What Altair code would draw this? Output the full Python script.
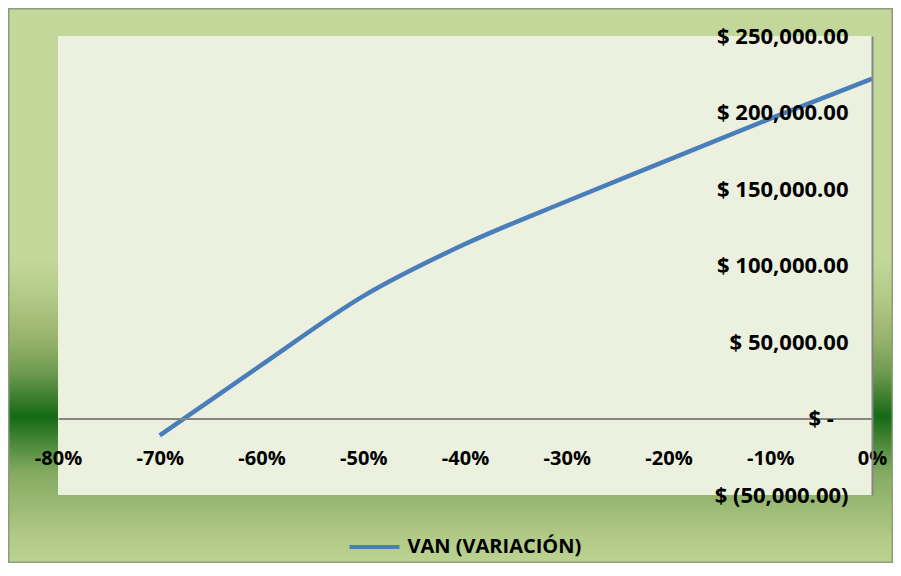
import altair as alt
import pandas as pd

# Data
variacion = [-0.70, -0.60, -0.50, -0.40, -0.30, -0.20, -0.10, 0.0]
van = [-11000, 35000, 80000, 114000, 142000, 169000, 196000, 222000]
series_name = "VAN (VARIACIÓN)"
x_ticks = [-0.8, -0.7, -0.6, -0.5, -0.4, -0.3, -0.2, -0.1, 0.0]
y_ticks = [-50000, 0, 50000, 100000, 150000, 200000, 250000]

W, H = 814, 459
FONT = "Open Sans"

df = pd.DataFrame({"x": variacion, "y": van, "serie": [series_name] * len(van)})
dummy = alt.Data(values=[{"a": 1}])

grad = alt.LinearGradient(
    gradient="linear", x1=0, y1=0, x2=0, y2=1,
    stops=[
        alt.GradientStop(color="#C4D79B", offset=0.0),
        alt.GradientStop(color="#C4D79B", offset=0.449),
        alt.GradientStop(color="#B0C985", offset=0.526),
        alt.GradientStop(color="#97B26B", offset=0.598),
        alt.GradientStop(color="#6D9A4F", offset=0.658),
        alt.GradientStop(color="#3F7F30", offset=0.701),
        alt.GradientStop(color="#156A15", offset=0.737),
        alt.GradientStop(color="#3D8130", offset=0.773),
        alt.GradientStop(color="#84AA60", offset=0.838),
        alt.GradientStop(color="#B3CB88", offset=0.959),
        alt.GradientStop(color="#BBD291", offset=1.0),
    ],
)

bg = alt.Chart(dummy).mark_rect(fill=grad, stroke="#8D9B7E", strokeWidth=1.5).encode(
    x=alt.value(-49.25), x2=alt.value(834.25), y=alt.value(-27.25), y2=alt.value(526.25)
)

plotfill = alt.Chart(dummy).mark_rect(fill="#EBF1DE").encode(
    x=alt.value(0), x2=alt.value(W), y=alt.value(0), y2=alt.value(H)
)

y_label_expr = (
    "datum.value == 0 ? '$ -\u2002\u2009\u200b' : "
    "(datum.value < 0 ? '$ (' + format(-datum.value, ',.2f') + ')' : "
    "'$ ' + format(datum.value, ',.2f'))"
)
x_label_expr = "replace(format(datum.value, '.0%'), '\u2212', '-')"

line = alt.Chart(df).mark_line(strokeWidth=4.5, interpolate="monotone").encode(
    x=alt.X(
        "x:Q",
        scale=alt.Scale(domain=[-0.8, 0], nice=False, zero=False),
        axis=alt.Axis(
            values=x_ticks, labelExpr=x_label_expr, title=None, grid=False, ticks=False,
            tickSize=0, domainColor="#868686", domainWidth=2, offset=-76.5,
            labelPadding=30, labelFlush=False, labelFont=FONT, labelFontSize=20,
            labelFontWeight="bold", labelColor="#000000", zindex=1,
        ),
    ),
    y=alt.Y(
        "y:Q",
        scale=alt.Scale(domain=[-50000, 250000], nice=False, zero=False),
        axis=alt.Axis(
            orient="right", values=y_ticks, labelExpr=y_label_expr, title=None,
            grid=False, ticks=False, tickSize=0, domainColor="#868686",
            domainWidth=2, labelAlign="right", labelPadding=-24, labelFont=FONT,
            labelFontSize=22, labelFontWeight="bold", labelColor="#000000",
            labelBaseline="middle", zindex=1,
        ),
    ),
    color=alt.Color(
        "serie:N",
        scale=alt.Scale(domain=[series_name], range=["#4A7EBB"]),
        legend=alt.Legend(
            orient="none", legendX=289.5, legendY=484, title=None,
            symbolType="stroke", symbolSize=2500, symbolStrokeWidth=4,
            labelFont=FONT, labelFontSize=20, labelFontWeight="bold",
            labelColor="#000000", labelOffset=6, labelLimit=0, padding=0, zindex=1,
        ),
    ),
)

chart = alt.layer(bg, plotfill, line).properties(
    width=W, height=H, padding=0, background="#FFFFFF"
).configure_view(stroke=None)

chart.save("out.html", embed_options={"renderer": "svg", "actions": False})
